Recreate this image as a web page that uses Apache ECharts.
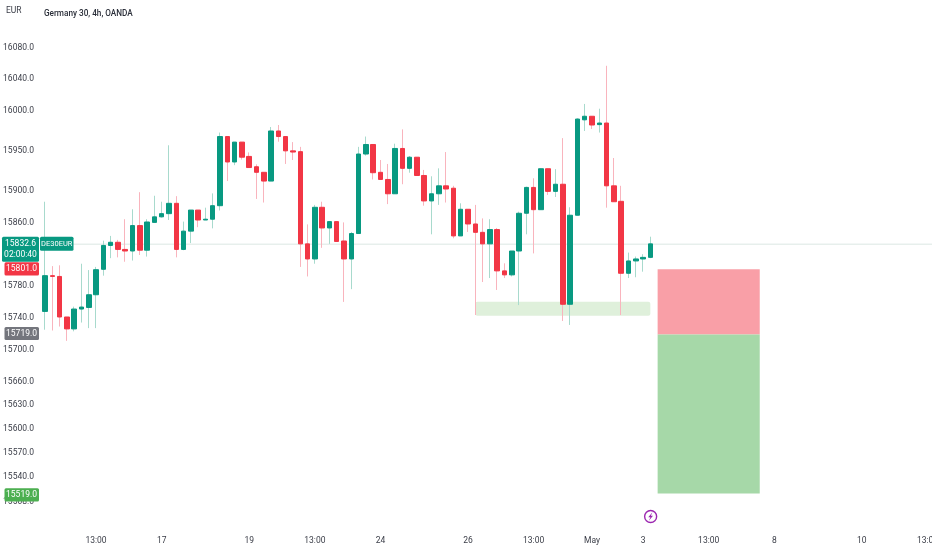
<!DOCTYPE html>
<html><head><meta charset="utf-8">
<style>html,body{margin:0;padding:0;background:#fff}#c{width:932px;height:550px}</style>
<script src="https://cdn.jsdelivr.net/npm/echarts@6/dist/echarts.min.js"></script>
</head><body><div id="c"></div>
<script>
const opens=[15716,15748,15793,15792,15741,15726,15751,15753,15769,15801,15831,15835,15826,15824,15856,15825,15860,15867,15871,15884,15826,15849,15875.5,15863,15864,15881,15968,15936,15961,15943,15930,15923,15912,15975,15968,15950,15949,15833,15814,15879,15853,15861,15836.6,15814,15846,15946,15958,15923,15914,15896,15953,15928,15942,15919,15887,15896,15906,15903,15843,15876.5,15858,15847.5,15833,15851,15799,15794,15824,15871.5,15904,15876,15927.5,15899,15908,15757,15869,15989,15993.5,15983,15985,15906,15886.5,15796,15811.5,15814,15816];
const closes=[15748,15793,15792,15741,15726,15751,15753.5,15769,15800.5,15831,15835,15826,15824,15856,15825,15860.5,15867,15871,15884,15826,15849,15875.5,15863,15864,15881,15968,15936,15961,15942,15929,15923,15912,15975,15968,15950,15948.5,15833,15814,15879,15853,15861,15836,15814,15846,15946,15958,15922.5,15914,15896,15953,15928,15942,15919,15887,15896,15906,15902,15843,15876.5,15858,15847.5,15833,15851,15799,15794,15824,15871.5,15904,15876,15927.5,15899,15908,15757,15869,15990,15993.5,15982.5,15985,15906,15886,15796,15811.5,15814,15816,15833];
const lows=[15716,15725,15724,15729,15711,15723,15734,15727,15727,15793,15815,15816,15810.5,15812,15819,15817,15860,15866,15863,15816,15825,15834,15854,15863,15852.5,15875,15912,15932,15939,15929,15889.5,15885,15912,15961.5,15933.5,15938.5,15804,15792,15808,15828,15833,15836,15760,15776,15846,15944,15914,15914,15883,15896,15908,15922.5,15919,15881,15845,15882,15885,15840,15843,15848,15743.5,15785,15790,15775,15790,15792,15756,15845,15821,15876,15894.5,15892,15736,15731,15869,15975,15977.5,15973,15878.5,15886,15743.5,15790,15791,15798,15815];
const highs=[15748,15886,15805,15806,15741,15754,15808,15800,15804,15837,15843,15838,15864,15876.5,15898,15864,15893.5,15886,15957,15893,15861,15875.5,15875.5,15878.5,15896.5,15973,15968,15961,15961,15948,15933,15923,15980,15982.5,15968,15961,15955,15857.5,15882,15886,15861,15861,15860,15848,15955,15968,15958,15938.5,15933.5,15959,15977,15943.5,15942,15926,15918,15928,15948.5,15906,15884,15876.5,15882,15865,15864,15853,15808.5,15824,15873.5,15905,15915.5,15927.5,15927.5,15927,15966,15879,15991,16009,15993.5,16003,16057,15941,15906,15822,15817,15820,15842];

const yTicks=[16080,16040,16000,15950,15900,15860,15780,15740,15700,15660,15630,15600,15570,15540,15508];
const xTickPos=[8,17,29,38,47,59,68,76,83,92,101,113,122];
const xTickLabels=['13:00','17','19','13:00','24','26','13:00','May','3','13:00','8','10','13:00'];
const title='Germany 30, 4h, OANDA';
const currency='EUR';
const symbol='DE30EUR';
const countdown='02:00:40';
const lastPrice=15832.6;
const stopPrice=15801, entryPrice=15719, targetPrice=15519;
const demandLow=15742.6, demandHigh=15760.3;
const demandFrom=60, demandTo=84, tradeFrom=85, tradeTo=99, iconAt=84;

const FONT='Roboto,"Liberation Sans",sans-serif';
const GREEN='#089981',RED='#f23645',GREEN_W='#a8dacd',RED_W='#f9b4bd',TXT='#3a3d47';
const xMin=0.314,xMax=122.62,yMin=15473.06,yMax=16139.75;
const wickData=opens.map((o,i)=>[i,o,closes[i],lows[i],highs[i]]);
const bodyData=opens.map((o,i)=>[i,o,closes[i],Math.min(o,closes[i]),Math.max(o,closes[i])]);

const zones=[
 {x0:demandFrom,x1:demandTo,y0:demandHigh,y1:demandLow,fill:'#dff0db',r:2},
 {x0:tradeFrom,x1:tradeTo,y0:stopPrice,y1:entryPrice,fill:'#f99fa7',r:0},
 {x0:tradeFrom,x1:tradeTo,y0:entryPrice,y1:targetPrice,fill:'#a6d8a8',r:0}
];
const tags=[
 {p:stopPrice,t:stopPrice.toFixed(1),bg:RED,dy:-0.5},
 {p:entryPrice,t:entryPrice.toFixed(1),bg:'#74767d',dy:-1},
 {p:targetPrice,t:targetPrice.toFixed(1),bg:'#4caf50',dy:1.3}
];
const chart=echarts.init(document.getElementById('c'),null,{renderer:'canvas'});
chart.setOption({
 animation:false,backgroundColor:'#fff',
 grid:{left:40,right:0,top:0,bottom:20,containLabel:false,outerBoundsMode:'none'},
 title:{text:title,left:44,top:10,padding:0,textStyle:{fontFamily:FONT,fontSize:8.2,fontWeight:500,color:'#2a2e39'}},
 graphic:[{type:'text',left:6,top:6.5,style:{text:currency,font:'8.5px '+FONT,fill:TXT}}],
 xAxis:{type:'value',min:xMin,max:xMax,splitLine:{show:false},axisLine:{show:false},axisTick:{show:false},
  axisLabel:{customValues:xTickPos,margin:6,fontFamily:FONT,fontSize:8.5,color:TXT,hideOverlap:false,showMinLabel:true,showMaxLabel:true,
   formatter:v=>xTickLabels[xTickPos.indexOf(Math.round(v))]||''}},
 yAxis:{type:'value',min:yMin,max:yMax,scale:true,splitLine:{show:false},axisLine:{show:false},axisTick:{show:false},
  axisLabel:{customValues:yTicks,margin:6,fontFamily:FONT,fontSize:8.5,color:TXT,formatter:v=>v.toFixed(1)}},
 series:[
  {type:'line',z:1,silent:true,showSymbol:false,data:[[xMin,lastPrice],[xMax,lastPrice]],lineStyle:{color:'#dbe7e3',width:1}},
  {type:'custom',z:1,silent:true,data:zones.map(z=>[z.x0,z.y0]),clip:true,
   renderItem:(p,api)=>{const z=zones[p.dataIndex];const a=api.coord([z.x0,z.y0]),b=api.coord([z.x1,z.y1]);
    return {type:'rect',shape:{x:a[0],y:a[1],width:b[0]-a[0],height:b[1]-a[1],r:z.r},style:{fill:z.fill}};}},
  {type:'candlestick',z:2,silent:true,barWidth:1,data:wickData,encode:{x:0,y:[1,2,3,4]},
   itemStyle:{color:GREEN_W,color0:RED_W,borderColor:GREEN_W,borderColor0:RED_W,borderWidth:1}},
  {type:'candlestick',z:3,silent:true,barWidth:5,data:bodyData,encode:{x:0,y:[1,2,3,4]},
   itemStyle:{color:GREEN,color0:RED,borderColor:GREEN,borderColor0:RED,borderWidth:1}},
  {type:'custom',z:10,silent:true,clip:false,data:tags.map(t=>[xMin,t.p]),
   renderItem:(p,api)=>{const t=tags[p.dataIndex];const y=api.coord([xMin,t.p])[1]+t.dy;
    return {type:'group',children:[
     {type:'rect',shape:{x:4.5,y:y-6.6,width:34.5,height:13.2,r:1.5},style:{fill:t.bg}},
     {type:'text',style:{text:t.t,x:21.5,y:y,fill:'#fff',font:'8.5px '+FONT,align:'center',verticalAlign:'middle'}}]};}},
  {type:'custom',z:11,silent:true,clip:false,data:[[xMin,lastPrice]],
   renderItem:(p,api)=>{const y=api.coord([xMin,lastPrice])[1]-0.5;
    const mk=(text,x,yy,size)=>({type:'text',style:{text,x,y:yy,fill:'#fff',font:size+'px '+FONT,align:'center',verticalAlign:'middle'}});
    return {type:'group',children:[
     {type:'rect',shape:{x:2,y:y-7,width:37,height:25,r:1.5},style:{fill:GREEN}},
     {type:'rect',shape:{x:40,y:y-7,width:33.5,height:14,r:1.5},style:{fill:GREEN}},
     mk(lastPrice.toFixed(1),20.5,y,8.5),mk(countdown,20.5,y+11.5,8.5),mk(symbol,56.7,y,7.5)]};}},
  {type:'custom',z:11,silent:true,clip:false,data:[[iconAt,yMin]],
   renderItem:(p,api)=>{const x=api.coord([iconAt,yMin])[0]+0.3,y=516.5;
    return {type:'group',children:[
     {type:'circle',shape:{cx:x,cy:y,r:6},style:{fill:'#fff',stroke:'#9c27b0',lineWidth:1.4}},
     {type:'polygon',shape:{points:[[x+1.8,y-4.2],[x-2.4,y+0.8],[x-0.2,y+0.8],[x-1.8,y+4.2],[x+2.4,y-0.8],[x+0.2,y-0.8]]},style:{fill:'#9c27b0'}}]};}}
 ]
});
</script></body></html>
